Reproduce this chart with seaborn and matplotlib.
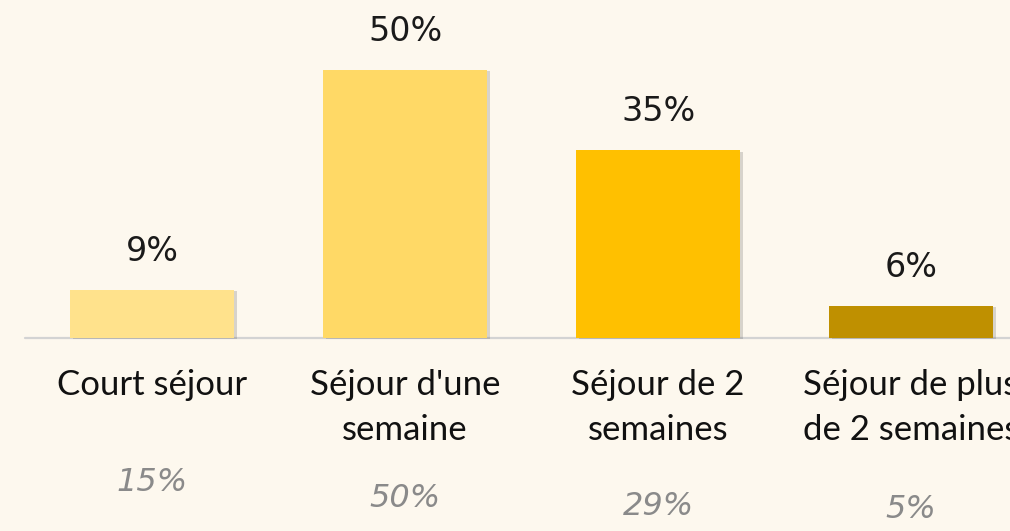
import matplotlib
matplotlib.use("Agg")
import matplotlib.pyplot as plt
import matplotlib.patheffects as pe
import seaborn as sns
import pandas as pd

categories = ["Court séjour", "Séjour d'une\nsemaine", "Séjour de 2\nsemaines", "Séjour de plus\nde 2 semaines"]
values = [9, 50, 35, 6]
previous = ["15%", "50%", "29%", "5%"]
colors = ["#FFE28C", "#FFD966", "#FFC000", "#BF9000"]

# vertical position of the grey comparison figures (data units, below baseline)
prev_y = [-27.0, -29.9, -31.5, -32.0]

bg = "#FDF8EE"
sns.set_theme(style="white")
plt.rcParams["font.family"] = ["DejaVu Sans"]

df = pd.DataFrame({"cat": categories, "val": values})

fig = plt.figure(figsize=(10.1, 5.31), dpi=100, facecolor=bg)
ax = fig.add_axes([0, 0, 1, 1], facecolor=bg)

sns.barplot(data=df, x="cat", y="val", hue="cat", palette=colors,
            legend=False, width=0.648, ax=ax, saturation=1, linewidth=0)

for p in ax.patches:
    p.set_path_effects([pe.SimplePatchShadow(offset=(2, -1), alpha=0.25, shadow_rgbFace="#666666"),
                        pe.Normal()])

for c in ax.containers:
    ax.bar_label(c, labels=[f"{v:.0f}%" for v in c.datavalues], padding=16,
                 fontsize=24, color="#1a1a1a")

ax.set_xlim(-0.601, 3.391)
ax.set_ylim(-36.0, 63.06)
ax.axhline(0, xmin=25 / 1010, xmax=1, color="#D3D3D3", lw=1.6, zorder=0)

for i, lab in enumerate(categories):
    ax.text(i, -5.8, lab, ha="center", va="top", fontsize=25, family="Lato",
            color="#111111", linespacing=1.5)
    ax.text(i, prev_y[i], previous[i], ha="center", va="center", fontsize=23,
            style="italic", color="#8a8a8a")

ax.set_axis_off()
fig.savefig("out.png", dpi=100, facecolor=bg)
